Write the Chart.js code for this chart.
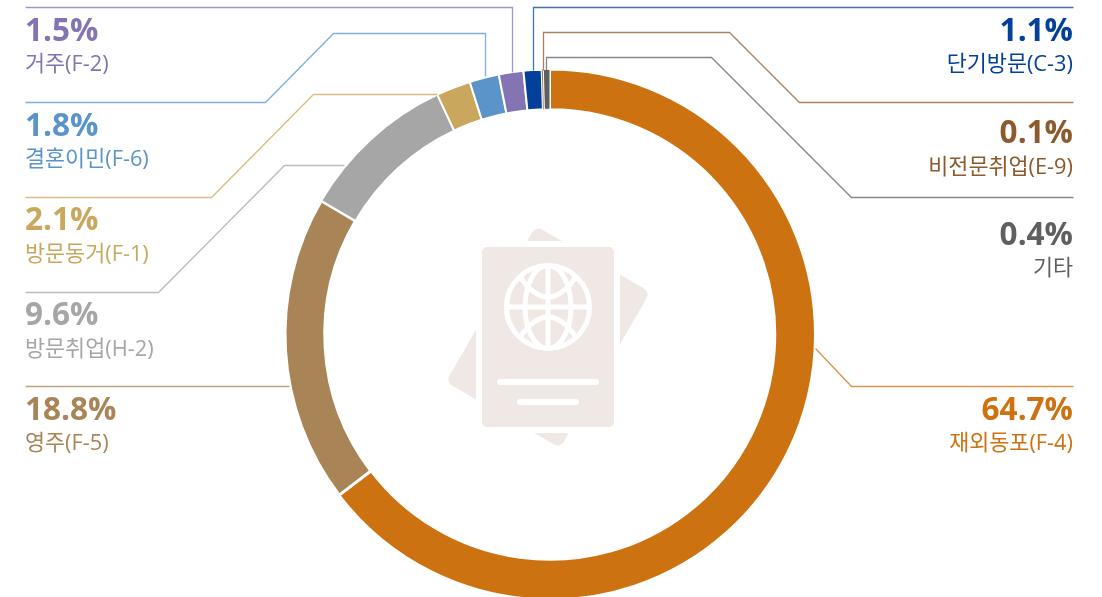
<!DOCTYPE html>
<html lang="ko">
<head>
<meta charset="utf-8">
<title>체류자격별 비중</title>
<script src="https://cdn.jsdelivr.net/npm/chart.js@4/dist/chart.umd.min.js"></script>
<style>
    html, body { margin: 0; padding: 0; background: #fff; overflow: hidden; }
    #wrap { position: relative; width: 1102px; height: 597px; overflow: hidden; }
    #icon, #ringChart { position: absolute; left: 0; top: 0; }
</style>
</head>
<body>
<div id="wrap">
    <!-- passport picture in the middle of the ring -->
    <svg id="icon" width="1102" height="597" viewBox="0 0 1102 597">
        <rect x="482" y="247" width="132" height="180" rx="7" fill="#efe8e5" transform="rotate(30 548 337)"/>
        <rect x="476" y="241" width="144" height="192" fill="#fff"/>
        <rect x="482" y="247" width="132" height="180" rx="5" fill="#efe8e5"/>
        <g fill="none" stroke="#fff" stroke-width="5">
            <circle cx="548" cy="307" r="41.5"/>
            <ellipse cx="548" cy="307" rx="23" ry="41.5"/>
            <line x1="548" y1="266" x2="548" y2="348"/>
            <line x1="507" y1="307" x2="589" y2="307"/>
            <path d="M520 277 Q548 317 576 277"/>
            <path d="M520 337 Q548 297 576 337"/>
        </g>
        <rect x="497" y="379" width="102" height="6" rx="3" fill="#fff"/>
        <rect x="517" y="399" width="62" height="6" rx="3" fill="#fff"/>
    </svg>
    <canvas id="ringChart" width="1102" height="601"></canvas>
</div>

<script>
const categories = ['재외동포(F-4)', '영주(F-5)', '방문취업(H-2)', '방문동거(F-1)', '결혼이민(F-6)', '거주(F-2)', '단기방문(C-3)', '비전문취업(E-9)', '기타'];
const shares = [64.7, 18.8, 9.6, 2.1, 1.8, 1.5, 1.1, 0.1, 0.4];
const sliceColors = ['#cd7210', '#a98456', '#a6a6a6', '#c9a75d', '#5a94c9', '#8474b3', '#02409a', '#8c5a2b', '#5f5f5f'];
const sliceBorders = [2, 3, 2, 2, 2, 2, 2, 0.5, 1];

// label rows: x, percent baseline, name baseline, text align
const labelSpots = [
    [1073, 420, 450, 'right'], [25, 420, 450, 'left'], [25, 325, 356, 'left'], [25, 230, 261, 'left'], [25, 136, 166, 'left'],
    [25, 41, 71, 'left'], [1073, 41, 71, 'right'], [1073, 143, 174, 'right'], [1073, 245, 275, 'right']
];

// leader lines, from the label edge to the ring
const leaders = [
    [[1073, 386], [851, 386], [815, 348]],
    [[25, 386], [289, 386]],
    [[25, 292], [158, 292], [284, 165], [344, 165]],
    [[25, 197], [211, 197], [313, 94], [437, 94]],
    [[25, 102], [265, 102], [333, 33], [485, 33], [485, 76]],
    [[25, 7], [512, 7], [512, 72]],
    [[1073, 7], [533, 7], [533, 70]],
    [[1073, 102], [799, 102], [729, 32], [543, 32], [543, 70]],
    [[1073, 197], [851, 197], [711, 57], [546, 57], [546, 70]]
];

const ringLabels = {
    id: 'ringLabels',
    afterDraw(chart) {
        const ctx = chart.ctx;
        ctx.save();
        leaders.forEach((pts, i) => {
            ctx.beginPath();
            pts.forEach((p, j) => {
                if (j === 0) ctx.moveTo(p[0] + 0.5, p[1] + 0.5);
                else ctx.lineTo(p[0] + 0.5, p[1] + 0.5);
            });
            ctx.strokeStyle = sliceColors[i];
            ctx.globalAlpha = 0.75;
            ctx.lineWidth = 1.3;
            ctx.stroke();
        });
        ctx.globalAlpha = 1;
        labelSpots.forEach((spot, i) => {
            ctx.fillStyle = sliceColors[i];
            ctx.textAlign = spot[3];
            ctx.textBaseline = 'alphabetic';
            ctx.font = '700 31.5px "Open Sans", "Noto Sans CJK KR"';
            ctx.fillText(shares[i].toFixed(1) + '%', spot[0], spot[1]);
            ctx.font = '400 21.8px "Open Sans", "Noto Sans CJK KR"';
            ctx.fillText(categories[i], spot[0], spot[2]);
        });
        ctx.restore();
    }
};

new Chart(document.getElementById('ringChart').getContext('2d'), {
    type: 'doughnut',
    data: {
        labels: categories,
        datasets: [{
            data: shares,
            backgroundColor: sliceColors,
            borderColor: '#fff',
            borderWidth: sliceBorders,
            hoverOffset: 0
        }]
    },
    options: {
        responsive: false,
        animation: false,
        cutout: '85%',
        layout: { padding: { top: 68, bottom: 0, left: 0, right: 2 } },
        plugins: {
            legend: { display: false },
            tooltip: { enabled: false }
        }
    },
    plugins: [ringLabels]
});
</script>
</body>
</html>
